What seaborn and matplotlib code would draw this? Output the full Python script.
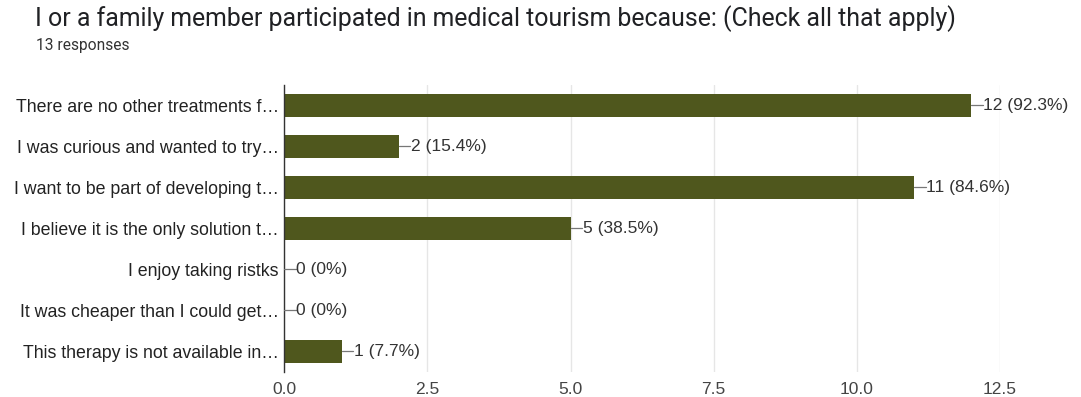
import pandas as pd
import seaborn as sns
import matplotlib.pyplot as plt

# survey answers (labels truncated like in the form summary)
reasons = [
    "There are no other treatments f…",
    "I was curious and wanted to try…",
    "I want to be part of developing t…",
    "I believe it is the only solution t…",
    "I enjoy taking ristks",
    "It was cheaper than I could get…",
    "This therapy is not available in…",
]
counts = [12, 2, 11, 5, 0, 0, 1]
percents = ["92.3%", "15.4%", "84.6%", "38.5%", "0%", "0%", "7.7%"]
ticks = [0.0, 2.5, 5.0, 7.5, 10.0, 12.5]

df = pd.DataFrame({"reason": reasons, "count": counts, "pct": percents})

sns.set_style("white")
plt.rcParams["font.family"] = ["Liberation Sans", "DejaVu Sans"]

fig = plt.figure(figsize=(10.81, 3.97), dpi=100)
ax = fig.add_axes([0.263, 0.063, 0.662, 0.723])

sns.barplot(data=df, x="count", y="reason", color="#4f571d", saturation=1,
            width=0.58, orient="h", linewidth=0, ax=ax)

ax.set_xlim(0, 12.5)
ax.set_ylim(6.5, -0.5)
ax.set_xticks(ticks)
ax.set_xticklabels([f"{t:.1f}" for t in ticks])
ax.set_xlabel("")
ax.set_ylabel("")
ax.grid(axis="x", color="#e6e6e6", linewidth=1)
ax.set_axisbelow(True)
for s in ["top", "right", "bottom"]:
    ax.spines[s].set_visible(False)
ax.spines["left"].set_color("#333333")
ax.spines["left"].set_linewidth(1)
ax.tick_params(axis="x", length=0, pad=7, labelsize=12.5, labelcolor="#444444")
ax.tick_params(axis="y", length=0, pad=4, labelsize=12.8, labelcolor="#222222")

# value annotations with a short leader line
for i, (c, p) in enumerate(zip(counts, percents)):
    ax.plot([c, c + 0.2], [i, i], color="#777777", linewidth=0.9, zorder=3)
    ax.text(c + 0.21, i, f"{c} ({p})", va="center", ha="left",
            fontsize=12.5, color="#333333")

fig.text(0.032, 0.952, "I or a family member participated in medical tourism because: (Check all that apply)",
         fontsize=17.9, color="#202124", va="center", family=["Roboto", "DejaVu Sans"])
fig.text(0.033, 0.886, "13 responses", fontsize=11.2, color="#333333", va="center",
         family=["Roboto", "DejaVu Sans"])

fig.savefig("out.png", dpi=100)
